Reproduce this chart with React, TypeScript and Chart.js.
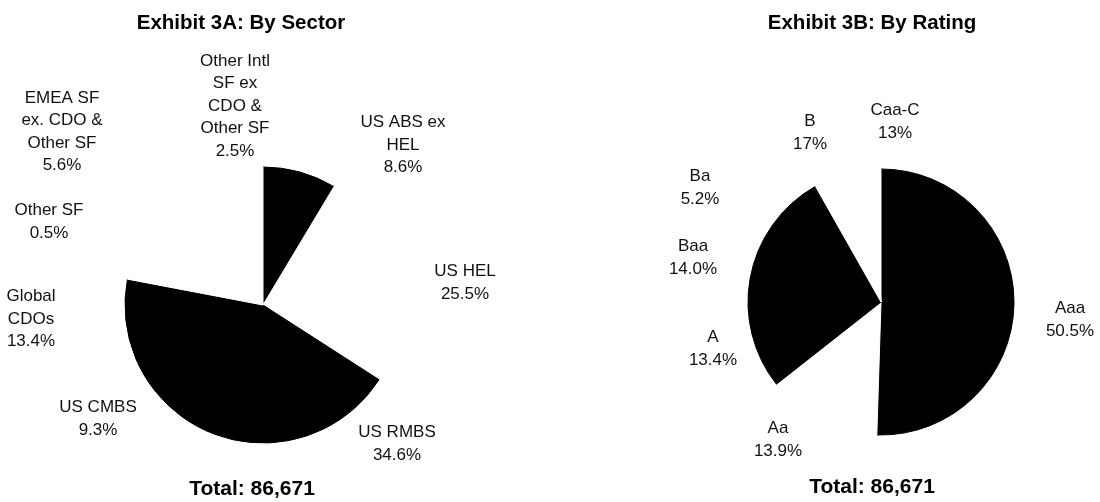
import React, { useEffect, useRef } from "react";
import { Chart, registerables } from "chart.js";

Chart.register(...registerables);

// ---------- DATA ----------
const sectorTitle = "Exhibit 3A: By Sector";
const sectorCategories: string[][] = [
  ["US ABS ex", "HEL"],
  ["US HEL"],
  ["US RMBS"],
  ["US CMBS"],
  ["Global", "CDOs"],
  ["Other SF"],
  ["EMEA SF", "ex. CDO &", "Other SF"],
  ["Other Intl", "SF ex", "CDO &", "Other SF"],
];
const sectorValues = [8.6, 25.5, 34.6, 9.3, 13.4, 0.5, 5.6, 2.5];
const sectorPctText = ["8.6%", "25.5%", "34.6%", "9.3%", "13.4%", "0.5%", "5.6%", "2.5%"];
const sectorTotal = "Total: 86,671";

const ratingTitle = "Exhibit 3B: By Rating";
const ratingCategories: string[][] = [["Aaa"], ["Aa"], ["A"], ["Baa"], ["Ba"], ["B"], ["Caa-C"]];
const ratingValues = [50.5, 13.9, 13.4, 14.0, 5.2, 1.7, 1.3];
const ratingPctText = ["50.5%", "13.9%", "13.4%", "14.0%", "5.2%", "17%", "13%"];
const ratingTotal = "Total: 86,671";

// ---------- STYLE / LAYOUT ----------
const BLACK = "#000000";
const WHITE = "#ffffff";
const sectorColors = [BLACK, WHITE, BLACK, BLACK, WHITE, WHITE, WHITE, WHITE];
const ratingColors = [BLACK, WHITE, BLACK, BLACK, WHITE, WHITE, WHITE];

const FONT = '"Liberation Sans", Arial, Helvetica, sans-serif';
const PANEL_W = 550;
const PANEL_H = 502;

// label block centers relative to pie center (px)
const sectorLabelOffsets: [number, number][] = [
  [140, -160],
  [202, -22],
  [134, 139],
  [-165, 114],
  [-232, 14],
  [-214, -83],
  [-201, -173],
  [-28, -199],
];
const ratingLabelOffsets: [number, number][] = [
  [189, 18],
  [-103, 138],
  [-168, 47],
  [-188, -44],
  [-181, -114],
  [-71, -169],
  [14, -180],
];

interface PanelCfg {
  left: number;
  title: string;
  total: string;
  categories: string[][];
  values: number[];
  pctText: string[];
  colors: string[];
  offsets: [number, number][];
  center: [number, number];
  radius: number;
  titlePos: [number, number];
  totalPos: [number, number];
}

const panels: PanelCfg[] = [
  {
    left: 0,
    title: sectorTitle,
    total: sectorTotal,
    categories: sectorCategories,
    values: sectorValues,
    pctText: sectorPctText,
    colors: sectorColors,
    offsets: sectorLabelOffsets,
    center: [263, 305],
    radius: 138,
    titlePos: [241, 23],
    totalPos: [252, 489],
  },
  {
    left: 550,
    title: ratingTitle,
    total: ratingTotal,
    categories: ratingCategories,
    values: ratingValues,
    pctText: ratingPctText,
    colors: ratingColors,
    offsets: ratingLabelOffsets,
    center: [331, 302],
    radius: 133,
    titlePos: [322, 23],
    totalPos: [322, 487],
  },
];

function PiePanel({ cfg }: { cfg: PanelCfg }) {
  const ref = useRef<HTMLCanvasElement | null>(null);

  useEffect(() => {
    if (!ref.current) return;
    const half = cfg.radius + 0.5;
    const padding = {
      left: cfg.center[0] - half,
      right: PANEL_W - (cfg.center[0] + half),
      top: cfg.center[1] - half,
      bottom: PANEL_H - (cfg.center[1] + half),
    };

    const labelPlugin = {
      id: "panelText",
      afterDraw(chart: any) {
        const ctx = chart.ctx as CanvasRenderingContext2D;
        const meta = chart.getDatasetMeta(0);
        const arc = meta.data[0] as any;
        const cx = arc.x;
        const cy = arc.y;
        ctx.save();
        ctx.fillStyle = "#111";
        ctx.textAlign = "center";
        ctx.textBaseline = "middle";
        ctx.font = `17px ${FONT}`;
        const lh = 22.5;
        cfg.categories.forEach((cat, i) => {
          const lines = [...cat, cfg.pctText[i]];
          const n = lines.length;
          const [dx, dy] = cfg.offsets[i];
          lines.forEach((line, k) => {
            ctx.fillText(line, cx + dx, cy + dy + (k - (n - 1) / 2) * lh);
          });
        });
        ctx.fillStyle = "#000";
        ctx.font = `bold 20.5px ${FONT}`;
        ctx.fillText(cfg.title, cfg.titlePos[0], cfg.titlePos[1]);
        ctx.font = `bold 21px ${FONT}`;
        ctx.fillText(cfg.total, cfg.totalPos[0], cfg.totalPos[1]);
        ctx.restore();
      },
    };

    const chart = new Chart(ref.current, {
      type: "pie",
      data: {
        labels: cfg.categories.map((c) => c.join(" ")),
        datasets: [
          {
            data: cfg.values,
            backgroundColor: cfg.colors,
            borderColor: cfg.colors,
            borderWidth: 1,
          },
        ],
      },
      options: {
        responsive: false,
        animation: false,
        devicePixelRatio: 1,
        events: [],
        layout: { padding },
        plugins: {
          legend: { display: false },
          tooltip: { enabled: false },
          title: { display: false },
        },
      } as any,
      plugins: [labelPlugin],
    });
    return () => chart.destroy();
  }, [cfg]);

  return (
    <canvas
      ref={ref}
      width={PANEL_W}
      height={PANEL_H}
      style={{
        position: "absolute",
        left: cfg.left,
        top: 0,
        width: PANEL_W,
        height: PANEL_H,
      }}
    />
  );
}

export default function App() {
  return (
    <div
      style={{
        position: "absolute",
        left: 0,
        top: 0,
        width: 1100,
        height: 502,
        background: "#fff",
        overflow: "hidden",
      }}
    >
      {panels.map((p, i) => (
        <PiePanel key={i} cfg={p} />
      ))}
    </div>
  );
}
